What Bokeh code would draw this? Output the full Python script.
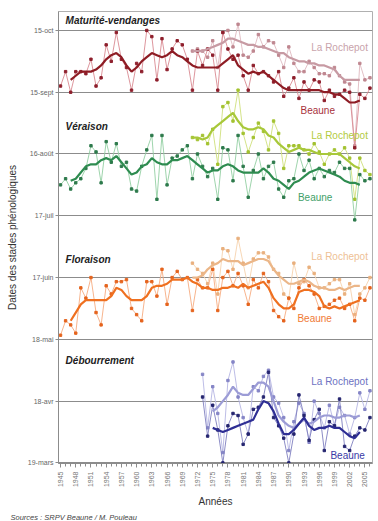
import math
from bokeh.plotting import figure
from bokeh.models import FixedTicker, Label, Title
from bokeh.embed import file_html
from bokeh.resources import INLINE

# ---------------- data (day of year) ----------------
years_beaune = list(range(1945, 2007))
years_beaune_smooth = list(range(1947, 2005))
years_roch = list(range(1971, 2007))
years_roch_smooth = list(range(1971, 2005))
years_deb = list(range(1973, 2007))
years_deb_smooth = list(range(1975, 2005))

mat_beaune = [261, 268, 258, 268, 268, 267, 274, 261, 265, 281,
              273, 287, 274, 270, 259, 272, 268, 288, 285, 264,
              284, 269, 279, 283, 281, 274, 259, 278, 271, 279,
              276, 259, 287, 279, 274, 276, 266, 259, 271, 267,
              268, 266, 263, 268, 256, 260, 265, 255, 263, 259,
              264, 263, 254, 259, 256, 257, 259, 258, 231, 257,
              255, 260]
mat_beaune_smooth = [264, 266, 268, 268, 268, 269, 271, 274, 276, 277,
                     275, 271, 268, 270, 273, 275, 277, 276, 275, 276,
                     278, 276, 275, 273, 271, 270, 270, 270, 270, 270,
                     272, 274, 276, 271, 269, 267, 268, 267, 268, 266,
                     264, 262, 260, 259, 259, 259, 259, 259, 259, 259,
                     258, 258, 257, 257, 255, 253, 253, 254]
mat_roch = [278, 279, 278, 275, 283, 270, 287, 288, 280, 291,
            276, 275, 278, 286, 280, 283, 282, 276, 270, 280,
            272, 268, 268, 273, 270, 267, 267, 266, 270, 266,
            263, 262, 232, 272, 264, 265]
mat_roch_smooth = [278, 278, 278, 279, 280, 281, 282, 284, 284, 283,
                   282, 281, 281, 280, 280, 279, 278, 277, 277, 275,
                   274, 273, 273, 272, 272, 271, 271, 270, 269, 266,
                   264, 264, 264, 264]

ver_beaune = [213, 216, 211, 214, 216, 221, 232, 229, 214, 234,
              224, 233, 222, 224, 211, 210, 222, 230, 237, 206,
              237, 213, 226, 227, 230, 232, 216, 228, 222, 217,
              221, 206, 231, 230, 215, 237, 222, 207, 220, 228,
              216, 222, 224, 211, 207, 215, 216, 228, 220, 225,
              216, 221, 217, 220, 219, 224, 221, 221, 196, 218,
              215, 216]
ver_beaune_smooth = [215, 216, 219, 222, 223, 223, 225, 226, 225, 227,
                     224, 221, 218, 219, 222, 223, 226, 224, 223, 223,
                     225, 225, 226, 227, 225, 223, 221, 219, 220, 220,
                     222, 223, 222, 220, 219, 219, 219, 219, 221, 219,
                     216, 215, 213, 211, 214, 215, 217, 219, 220, 221,
                     220, 219, 218, 217, 215, 214, 214, 213]
ver_roch = [236, 235, 237, 233, 240, 223, 251, 253, 244, 259,
            238, 229, 236, 243, 239, 230, 244, 238, 221, 232,
            232, 232, 230, 228, 233, 229, 223, 228, 230, 228,
            231, 226, 206, 226, 220, 218]
ver_roch_smooth = [236, 236, 235, 236, 240, 242, 244, 246, 248, 244,
                   241, 240, 240, 241, 240, 237, 236, 233, 231, 229,
                   230, 231, 230, 230, 229, 228, 228, 228, 228, 228,
                   226, 224, 222, 221]

flo_beaune = [140, 147, 145, 141, 163, 158, 168, 151, 145, 164,
              160, 166, 166, 167, 153, 150, 147, 166, 166, 159,
              172, 155, 168, 171, 167, 168, 152, 167, 163, 163,
              172, 152, 168, 171, 164, 170, 164, 155, 167, 163,
              170, 166, 152, 149, 147, 158, 153, 163, 167, 164,
              160, 153, 154, 155, 157, 158, 153, 155, 147, 158,
              157, 163]
flo_beaune_smooth = [147, 151, 155, 157, 157, 157, 157, 157, 159, 163,
                     162, 159, 157, 157, 157, 159, 163, 164, 164, 165,
                     167, 167, 167, 168, 166, 165, 163, 163, 162, 162,
                     163, 163, 164, 163, 165, 163, 164, 165, 166, 163,
                     158, 155, 153, 153, 155, 161, 162, 162, 161, 159,
                     154, 153, 154, 153, 154, 155, 156, 157]
flo_roch = [175, 172, 170, 165, 175, 160, 182, 181, 172, 187,
            175, 163, 177, 180, 180, 178, 172, 170, 160, 158,
            175, 165, 166, 173, 170, 163, 163, 165, 167, 167,
            160, 165, 150, 160, 163, 168]
flo_roch_smooth = [168, 168, 169, 172, 174, 175, 177, 176, 176, 176,
                   174, 175, 176, 177, 177, 176, 172, 169, 167, 165,
                   165, 166, 167, 166, 164, 163, 163, 162, 162, 163,
                   162, 163, 164, 164]

deb_beaune = [110, 91, 106, 94, 78, 96, 102, 101, 87, 92,
              104, 105, 110, 122, 100, 96, 90, 78, 92, 111,
              101, 89, 99, 104, 84, 98, 96, 109, 86, 84,
              91, 95, 94, 100]
deb_beaune_smooth = [95, 94, 93, 94, 95, 96, 97, 98, 99, 104,
                     108, 107, 103, 97, 92, 92, 94, 97, 100, 96,
                     94, 95, 95, 96, 95, 95, 93, 91, 90, 93]
deb_roch = [121, 95, 115, 102, 83, 118, 127, 110, 100, 92,
            115, 113, 120, 123, 110, 107, 100, 84, 98, 107,
            102, 88, 108, 102, 95, 106, 96, 105, 101, 92,
            100, 112, 104, 113]
deb_roch_smooth = [103, 105, 108, 111, 115, 112, 111, 111, 114, 117,
                   117, 115, 108, 101, 98, 96, 95, 97, 99, 97,
                   98, 100, 101, 101, 100, 100, 101, 101, 100, 101]

y_tick_days = [78, 108, 138, 168, 198, 228, 258, 288]
y_tick_labels = ["19-mars", "18-avr", "18-mai", "17-juin", "17-juil", "16-août", "15-sept", "15-oct"]
x_tick_years = list(range(1945, 2006, 3))

stage_titles = ["Maturité-vendanges", "Véraison", "Floraison", "Débourrement"]
stage_title_days = [292.8, 241.5, 177.0, 127.6]
roch_label_days = [279.8, 237.0, 178.0, 117.4]
beaune_label_days = [249.2, 207.0, 148.0, 81.5]
beaune_label_years = [1995.7, 1995.2, 1995.1, 2001.6]

# ---------------- figure ----------------
FONT = "Liberation Sans"
p = figure(width=378, height=521, x_range=(1944.6, 2006.5), y_range=(77.7, 297.2),
           output_backend="svg", toolbar_location=None,
           min_border_left=58, min_border_right=6, min_border_top=11, min_border_bottom=57)
p.background_fill_color = "white"
p.border_fill_color = "white"
p.outline_line_color = "#b0b0b0"
p.xgrid.visible = False
p.ygrid.ticker = FixedTicker(ticks=y_tick_days)
p.ygrid.grid_line_color = "#8c8c8c"
p.ygrid.grid_line_width = 1.2

p.xaxis.ticker = FixedTicker(ticks=x_tick_years, minor_ticks=years_beaune)
p.xaxis.major_label_orientation = math.pi / 2
p.xaxis.major_label_text_font_size = "7px"
p.xaxis.major_label_text_color = "#777777"
p.xaxis.major_label_text_font = FONT
p.xaxis.axis_line_color = "#8c8c8c"
p.xaxis.major_tick_line_color = "#8c8c8c"
p.xaxis.minor_tick_line_color = "#8c8c8c"
p.xaxis.major_tick_in = 0
p.xaxis.major_tick_out = 4
p.xaxis.minor_tick_in = 0
p.xaxis.minor_tick_out = 3
p.xaxis.major_label_standoff = 4
p.xaxis.axis_label = "Années"
p.xaxis.axis_label_text_font = FONT
p.xaxis.axis_label_text_font_size = "10px"
p.xaxis.axis_label_text_font_style = "normal"
p.xaxis.axis_label_text_color = "#333333"
p.xaxis.axis_label_standoff = 6

p.yaxis.ticker = FixedTicker(ticks=y_tick_days)
p.yaxis.major_label_overrides = {d: s for d, s in zip(y_tick_days, y_tick_labels)}
p.yaxis.major_label_text_font_size = "7px"
p.yaxis.major_label_text_color = "#666666"
p.yaxis.major_label_text_font = FONT
p.yaxis.axis_line_color = "#8c8c8c"
p.yaxis.major_tick_line_color = "#8c8c8c"
p.yaxis.major_tick_in = 0
p.yaxis.major_tick_out = 3
p.yaxis.minor_tick_line_color = None
p.yaxis.major_label_standoff = 2
p.yaxis.axis_label = "Dates des stades phénologiques"
p.yaxis.axis_label_text_font = FONT
p.yaxis.axis_label_text_font_size = "10px"
p.yaxis.axis_label_text_font_style = "normal"
p.yaxis.axis_label_text_color = "#333333"
p.yaxis.axis_label_standoff = 7

series = [
    dict(b=mat_beaune, bs=mat_beaune_smooth, r=mat_roch, rs=mat_roch_smooth,
         yb=years_beaune, ybs=years_beaune_smooth, yr=years_roch, yrs=years_roch_smooth,
         b_thin="#d98a92", b_mark="#8e1f2c", b_smooth="#8e1c24",
         r_thin="#dfb9c0", r_mark="#bf8790", r_smooth="#c79aa3",
         b_lab="#a8323c", r_lab="#c9a3ab"),
    dict(b=ver_beaune, bs=ver_beaune_smooth, r=ver_roch, rs=ver_roch_smooth,
         yb=years_beaune, ybs=years_beaune_smooth, yr=years_roch, yrs=years_roch_smooth,
         b_thin="#93cfa3", b_mark="#2e7a4c", b_smooth="#2e8c50",
         r_thin="#cfe07c", r_mark="#a3c230", r_smooth="#a8c83a",
         b_lab="#3f9f68", r_lab="#b3cb3e"),
    dict(b=flo_beaune, bs=flo_beaune_smooth, r=flo_roch, rs=flo_roch_smooth,
         yb=years_beaune, ybs=years_beaune_smooth, yr=years_roch, yrs=years_roch_smooth,
         b_thin="#f6ac80", b_mark="#e5641e", b_smooth="#ef7020",
         r_thin="#f6d2ae", r_mark="#e9b07e", r_smooth="#ebb688",
         b_lab="#f07a34", r_lab="#eebf95"),
    dict(b=deb_beaune, bs=deb_beaune_smooth, r=deb_roch, rs=deb_roch_smooth,
         yb=years_deb, ybs=years_deb_smooth, yr=years_deb, yrs=years_deb_smooth,
         b_thin="#7f7fc0", b_mark="#25256f", b_smooth="#2e2e94",
         r_thin="#b6b6e3", r_mark="#8585c6", r_smooth="#9c9cd6",
         b_lab="#3a3aa6", r_lab="#6d72c2"),
]

for s in series:
    p.line(s["yr"], s["r"], line_color=s["r_thin"], line_width=0.9)
    p.scatter(s["yr"], s["r"], marker="square", size=2.4, fill_color=s["r_mark"], line_color=s["r_mark"])
    p.line(s["yb"], s["b"], line_color=s["b_thin"], line_width=0.9)
    p.scatter(s["yb"], s["b"], marker="square", size=2.4, fill_color=s["b_mark"], line_color=s["b_mark"])
    p.line(s["yrs"], s["rs"], line_color=s["r_smooth"], line_width=2.2)
    p.line(s["ybs"], s["bs"], line_color=s["b_smooth"], line_width=2.2)

for t, d in zip(stage_titles, stage_title_days):
    p.add_layout(Label(x=1946.0, y=d, text=t, text_font=FONT, text_font_size="10px",
                       text_font_style="bold italic", text_color="#222222",
                       text_align="left", text_baseline="middle"))

for s, dr in zip(series, roch_label_days):
    p.add_layout(Label(x=2005.6, y=dr, text="La Rochepot", text_font=FONT, text_font_size="10px",
                       text_color=s["r_lab"], text_align="right", text_baseline="middle"))
for s, db, xb in zip(series, beaune_label_days, beaune_label_years):
    p.add_layout(Label(x=xb, y=db, text="Beaune", text_font=FONT, text_font_size="10px",
                       text_color=s["b_lab"], text_align="center", text_baseline="middle"))

p.add_layout(Title(text="Sources : SRPV Beaune / M. Pouleau", text_font=FONT, text_font_size="7.5px",
                   text_font_style="italic", text_color="#444444", align="left",
                   offset=-48, standoff=0), "below")

open("out.html", "w").write(file_html(p, INLINE))
